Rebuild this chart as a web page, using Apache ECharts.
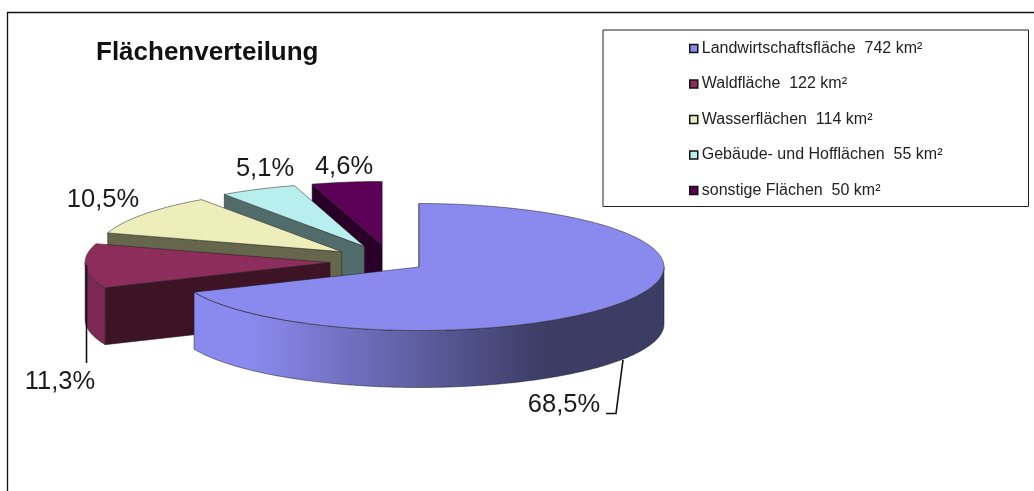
<!DOCTYPE html>
<html>
<head>
<meta charset="utf-8">
<style>
html, body { margin: 0; padding: 0; background: #fff; }
#main { width: 1034px; height: 491px; }
</style>
<script src="https://cdn.jsdelivr.net/npm/echarts@6/dist/echarts.min.js"></script>
</head>
<body>
<div id="main"></div>
<script>
"use strict";
const categories = ['Landwirtschaftsfläche', 'Waldfläche', 'Wasserflächen', 'Gebäude- und Hofflächen', 'sonstige Flächen'];
const areaKm2 = [742, 122, 114, 55, 50];

// top face, cut wall, curved wall
const topColors = ['#8a8aee', '#8c2d5c', '#eeeebb', '#b9eeee', '#5c0058'];
const cutColors = ['#45456f', '#3d1425', '#66664c', '#526c6c', '#2a0028'];
const sideColors = ['#8a8aee', '#7d2955', '#66664c', '#526c6c', '#2a0028'];

// pie projection in pixels
const pie = { cx: 419, cy: 267, rx: 245, ry: 63.5, depth: 57 };
// the small slices sit apart from the big one, each pushed out along its own middle
const groupShift = { x: -28, y: -5.4 };
const explode = { x: 61, y: 16.8 };

const labelLayout = [
    { x: 564, y: 405, leader: [[623, 360], [616, 413.5], [606, 413.5]] },
    { x: 60, y: 382, leader: [[86.5, 265], [86.5, 363]] },
    { x: 103, y: 200 },
    { x: 265, y: 169 },
    { x: 344, y: 167 }
];

const total = areaKm2.reduce((a, b) => a + b, 0);

function sliceAngles(idx) {
    let before = 0;
    for (let i = 0; i < idx; i++) {
        before += areaKm2[i];
    }
    return [before / total * 2 * Math.PI, (before + areaKm2[idx]) / total * 2 * Math.PI];
}

function percentLabel(value) {
    return (value / total * 100).toFixed(1).replace('.', ',') + '%';
}

function rimPoint(c, a) {
    return [c.x + pie.rx * Math.sin(a), c.y - pie.ry * Math.cos(a)];
}

function arcPoints(c, a0, a1) {
    const pts = [];
    const steps = Math.max(2, Math.ceil((a1 - a0) / 0.01));
    for (let i = 0; i <= steps; i++) {
        pts.push(rimPoint(c, a0 + (a1 - a0) * i / steps));
    }
    return pts;
}

function drop(pts) {
    return pts.map(p => [p[0], p[1] + pie.depth]).reverse();
}

function renderSlice(params, api) {
    const idx = params.seriesIndex;
    const [a0, a1] = sliceAngles(idx);
    const c = { x: pie.cx, y: pie.cy };
    if (idx > 0) {
        const mid = (a0 + a1) / 2;
        c.x += groupShift.x + explode.x * Math.sin(mid);
        c.y += groupShift.y - explode.y * Math.cos(mid);
    }
    const edge = { stroke: 'rgba(30,30,30,0.65)', lineWidth: 0.8 };
    const children = [];

    // wall along the starting cut
    const cut = [[c.x, c.y], rimPoint(c, a0)];
    children.push({
        type: 'polygon',
        shape: { points: cut.concat(drop(cut)) },
        style: Object.assign({ fill: cutColors[idx] }, edge)
    });

    // curved wall, only the part that faces the viewer
    const s0 = Math.max(a0, Math.PI / 2);
    const s1 = Math.min(a1, Math.PI * 1.5);
    if (s1 > s0) {
        const rim = arcPoints(c, s0, s1);
        const fill = idx === 0
            ? new echarts.graphic.LinearGradient(1, 0, 0, 0, [
                { offset: 0, color: '#3c3c64' },
                { offset: 0.25, color: '#3c3c64' },
                { offset: 0.88, color: '#8a8aee' },
                { offset: 1, color: '#8a8aee' }
            ])
            : sideColors[idx];
        children.push({
            type: 'polygon',
            shape: { points: rim.concat(drop(rim)) },
            style: Object.assign({ fill }, edge)
        });
    }

    // top face
    children.push({
        type: 'polygon',
        shape: { points: [[c.x, c.y]].concat(arcPoints(c, a0, a1)) },
        style: Object.assign({ fill: topColors[idx] }, edge)
    });

    const layout = labelLayout[idx];
    if (layout.leader) {
        children.push({
            type: 'polyline',
            shape: { points: layout.leader },
            style: { stroke: '#111', lineWidth: 1.6, fill: null }
        });
    }
    children.push({
        type: 'text',
        style: {
            x: layout.x,
            y: layout.y,
            text: percentLabel(api.value(0)),
            fill: '#1a1a1a',
            font: '25.5px "Liberation Sans", Arial, sans-serif',
            align: 'center',
            verticalAlign: 'middle'
        }
    });
    return { type: 'group', children };
}

const myChart = echarts.init(document.getElementById('main'), null, { renderer: 'canvas' });
const option = {
    animation: false,
    backgroundColor: '#fff',
    title: {
        text: 'Flächenverteilung',
        left: 96,
        top: 40,
        padding: 0,
        textStyle: {
            fontFamily: '"Liberation Sans", Arial, sans-serif',
            fontWeight: 'bold',
            fontSize: 26,
            color: '#111'
        }
    },
    legend: {
        orient: 'vertical',
        left: 603,
        top: 30,
        icon: 'rect',
        itemWidth: 8,
        itemHeight: 8,
        itemGap: 19.5,
        padding: [10.5, 86, 8, 86],
        borderColor: '#222',
        borderWidth: 1,
        selectedMode: false,
        itemStyle: { borderColor: '#111', borderWidth: 1.5 },
        textStyle: {
            fontFamily: '"Liberation Sans", Arial, sans-serif',
            fontSize: 16,
            color: '#222',
            padding: [0, 0, 0, -1]
        },
        data: categories.map((name, i) => `${name}  ${areaKm2[i]} km²`)
    },
    graphic: [
        {
            type: 'polyline',
            shape: { points: [[7.5, 491], [7.5, 12.5], [1034, 12.5]] },
            style: { stroke: '#111', lineWidth: 1.3, fill: null }
        }
    ],
    series: categories.map((name, i) => ({
        type: 'custom',
        name: `${name}  ${areaKm2[i]} km²`,
        coordinateSystem: 'none',
        // painted back to front, the big slice last
        z: 10 - i + (i === 0 ? 10 : 0),
        itemStyle: { color: topColors[i] },
        renderItem: renderSlice,
        data: [[areaKm2[i]]]
    }))
};
myChart.setOption(option);
</script>
</body>
</html>
